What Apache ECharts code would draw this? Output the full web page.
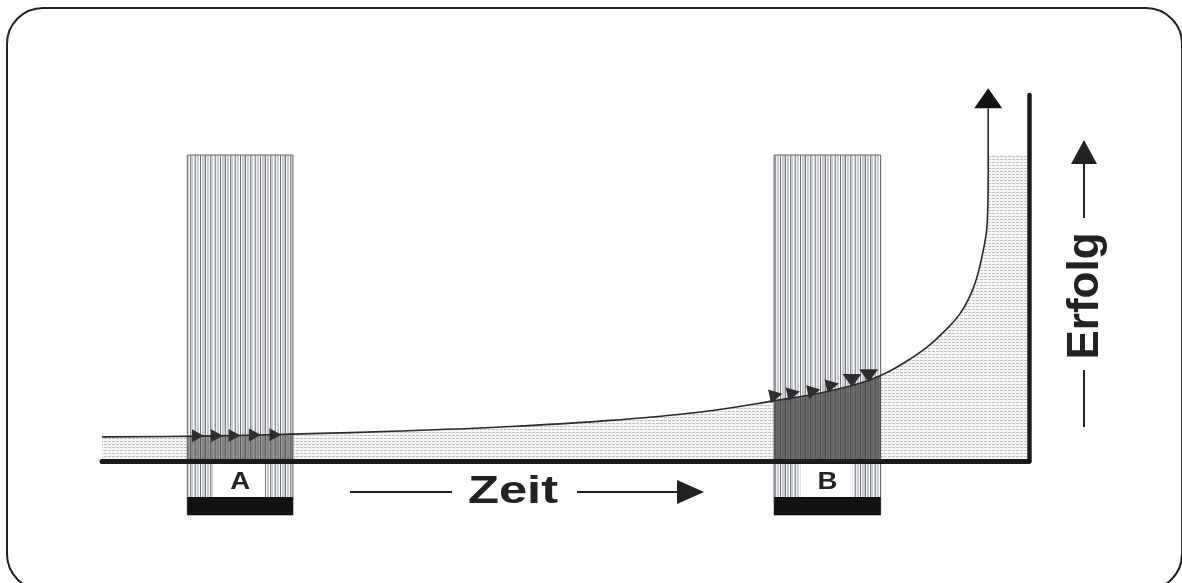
<!DOCTYPE html>
<html><head><meta charset="utf-8">
<script src="https://cdn.jsdelivr.net/npm/echarts@6/dist/echarts.min.js"></script>
<style>html,body{margin:0;padding:0;background:#fff}#c{width:1182px;height:583px}</style>
</head><body><div id="c"></div>
<script>
// ---- data ----
const curveTime    = [0, 10.6, 21.4, 32.2, 43, 53.8, 64.6, 73.1, 77.5, 80.7, 82.8, 85.0, 87.2, 89.0, 90.7, 92.6, 94.0, 94.9, 95.5, 95.6, 95.6];
const curveSuccess = [6.6, 6.8, 7.4, 8.2, 9.3, 10.9, 13.4, 16.7, 18.6, 20.5, 22.1, 24.6, 27.9, 31.1, 35.0, 40.4, 47.3, 55.5, 65.3, 79.5, 96.4];
const phaseNames = ['A', 'B'];
const phaseStart = [9.2, 72.5];
const phaseEnd   = [20.6, 84.0];
const phaseTop   = [83.6, 83.6];
const fieldTop   = 83.6;
const markerTime    = [10.35, 12.4, 14.3, 16.5, 18.7, 72.7, 74.6, 76.8, 78.8, 80.9, 82.7];
const markerSuccess = [6.9, 6.9, 7.0, 7.1, 7.2, 18.0, 18.6, 19.2, 20.8, 22.0, 23.3];
const markerDir     = ['right','right','right','right','right','right','right','right','right','down','down'];
const xLabel = 'Zeit';
const yLabel = 'Erfolg';

// ---- patterns ----
function makePattern(w, h, draw){ const c=document.createElement('canvas'); c.width=w; c.height=h; draw(c.getContext('2d')); return {image:c, repeat:'repeat'}; }
const dotPattern = makePattern(4, 3, g => { g.fillStyle='#f7f7f7'; g.fillRect(0,0,4,3); g.fillStyle='#c2c2c2'; g.fillRect(0,0,3,1); });
const stripeCols = ['#6f6f6f','#ffffff','#c9ccd3','#c9ccd3','#c9ccd3','#7c7c7c','#f4f4f4','#c6c9d0','#c6c9d0','#ffffff','#8a8a8a','#c9ccd3','#c9ccd3','#ffffff','#c9ccd3','#999999','#eeeeee','#c9ccd3','#c9ccd3','#ffffff'];
const stripePattern = makePattern(stripeCols.length, 4, g => { stripeCols.forEach((col,i)=>{ g.fillStyle=col; g.fillRect(i,0,1,4); }); });

function curveAt(t){
  for (let k=0;k<curveTime.length-1;k++){
    if (t>=curveTime[k] && t<=curveTime[k+1]) {
      const d = curveTime[k+1]-curveTime[k];
      const f = d ? (t-curveTime[k])/d : 0;
      return curveSuccess[k] + f*(curveSuccess[k+1]-curveSuccess[k]);
    }
  }
  return curveSuccess[curveSuccess.length-1];
}

const curveData = curveTime.map((t,i)=>[t, curveSuccess[i]]);
const phaseData = phaseNames.map((n,i)=>[i, phaseStart[i], phaseEnd[i], phaseTop[i]]);
const markerData = markerTime.map((t,i)=>({value:[t, markerSuccess[i]],
  symbolRotate: markerDir[i]==='down'?180:(i>=5?-78:-90),
  symbolSize: markerDir[i]==='down'?[19,13]:(i>=5?[14,13]:[13,12])}));
const last = curveData[curveData.length-1];
const FONT = '"Liberation Sans", Arial, sans-serif';

const chart = echarts.init(document.getElementById('c'), null, {renderer:'canvas'});
chart.setOption({
  animation:false,
  backgroundColor:'#ffffff',
  grid:{left:102, right:153, top:95, bottom:122, containLabel:false, outerBoundsMode:'none'},
  xAxis:{type:'value', min:0, max:100, z:10,
    axisLine:{show:true, onZero:false, lineStyle:{color:'#1b1b1b', width:5}},
    axisTick:{show:false}, axisLabel:{show:false}, splitLine:{show:false}},
  yAxis:{type:'value', min:0, max:100, position:'right', z:10,
    axisLine:{show:true, onZero:false, lineStyle:{color:'#1b1b1b', width:4.5}},
    axisTick:{show:false}, axisLabel:{show:false}, splitLine:{show:false}},
  series:[
    { // dotted field under the curve
      type:'line', data:curveData, smooth:0.4, symbol:'none', z:1, clip:false,
      lineStyle:{width:0}, areaStyle:{color:dotPattern, opacity:1}
    },
    { // dotted field right of the vertical rise
      type:'custom', z:1, clip:false, data:[[last[0], 100, fieldTop]],
      renderItem:(p, api)=>{
        const a = api.coord([api.value(0), api.value(2)]);
        const b = api.coord([api.value(1), 0]);
        return {type:'rect', shape:{x:a[0], y:a[1], width:b[0]-a[0], height:b[1]-a[1]}, style:{fill:dotPattern}};
      }
    },
    { // phase bars
      type:'custom', z:2, clip:false, data:phaseData,
      renderItem:(p, api)=>{
        const i = api.value(0);
        const l = api.coord([api.value(1), 0]);
        const r = api.coord([api.value(2), 0]);
        const top = api.coord([0, api.value(3)])[1];
        const base = l[1], w = r[0]-l[0];
        return {type:'group', children:[
          {type:'rect', shape:{x:l[0], y:top, width:w, height:base+54-top}, style:{fill:stripePattern, stroke:'#6a6a6a', lineWidth:1}},
          {type:'rect', shape:{x:l[0]+w*0.245, y:base+3, width:w*0.49, height:33}, style:{fill:'#ffffff'}},
          {type:'rect', shape:{x:l[0], y:base+36, width:w, height:18}, style:{fill:'#111111'}},
          {type:'text', x:l[0]+w/2, y:base+22, scaleX:1.2, style:{text:phaseNames[i], font:'bold 23px '+FONT, fill:'#222', align:'center', verticalAlign:'middle'}}
        ]};
      }
    },
    { // darker shading under the curve within each phase
      type:'custom', z:3, clip:false, data:phaseData,
      renderItem:(p, api)=>{
        const s = api.value(1), e = api.value(2);
        const pts = [api.coord([s,0]), api.coord([s,curveAt(s)])];
        curveTime.forEach((t,k)=>{ if (t>s && t<e) pts.push(api.coord([t,curveSuccess[k]])); });
        pts.push(api.coord([e,curveAt(e)]), api.coord([e,0]));
        return {type:'polygon', shape:{points:pts}, style:{fill: p.dataIndex===0 ? 'rgba(70,70,70,0.55)' : 'rgba(60,60,60,0.72)'}};
      }
    },
    { // the curve
      type:'line', data:curveData, smooth:0.4, symbol:'none', z:4, clip:false,
      lineStyle:{color:'#2a2a2a', width:1.6}
    },
    { // arrow markers along the curve
      type:'scatter', data:markerData, symbol:'triangle', z:5, clip:false,
      itemStyle:{color:'#2e2e2e', opacity:1}
    },
    { // arrow head at the end of the curve
      type:'scatter', data:[last], symbol:'triangle', symbolSize:[28,20], symbolOffset:[0,-10], z:5, clip:false,
      itemStyle:{color:'#111111', opacity:1}
    }
  ],
  graphic:[
    {type:'rect', z:100, shape:{x:7, y:8, width:1175, height:582, r:36}, style:{fill:'none', stroke:'#222', lineWidth:2}},
    {type:'text', z:100, x:513, y:492, scaleX:1.3, style:{text:xLabel, font:'bold 39px '+FONT, fill:'#222', align:'center', verticalAlign:'middle'}},
    {type:'line', z:100, shape:{x1:350, y1:492, x2:452, y2:492}, style:{stroke:'#222', lineWidth:2}},
    {type:'line', z:100, shape:{x1:577, y1:492, x2:680, y2:492}, style:{stroke:'#222', lineWidth:2}},
    {type:'polygon', z:100, shape:{points:[[677,480],[704,492],[677,504]]}, style:{fill:'#222'}},
    {type:'text', z:100, x:1086, y:296, rotation:Math.PI/2, style:{text:yLabel, font:'bold 44px '+FONT, fill:'#222', align:'center', verticalAlign:'middle'}},
    {type:'line', z:100, shape:{x1:1084, y1:370, x2:1084, y2:427}, style:{stroke:'#222', lineWidth:2}},
    {type:'line', z:100, shape:{x1:1084, y1:160, x2:1084, y2:218}, style:{stroke:'#222', lineWidth:2}},
    {type:'polygon', z:100, shape:{points:[[1071,164],[1084,140],[1097,164]]}, style:{fill:'#222'}}
  ]
});
</script>
</body></html>
